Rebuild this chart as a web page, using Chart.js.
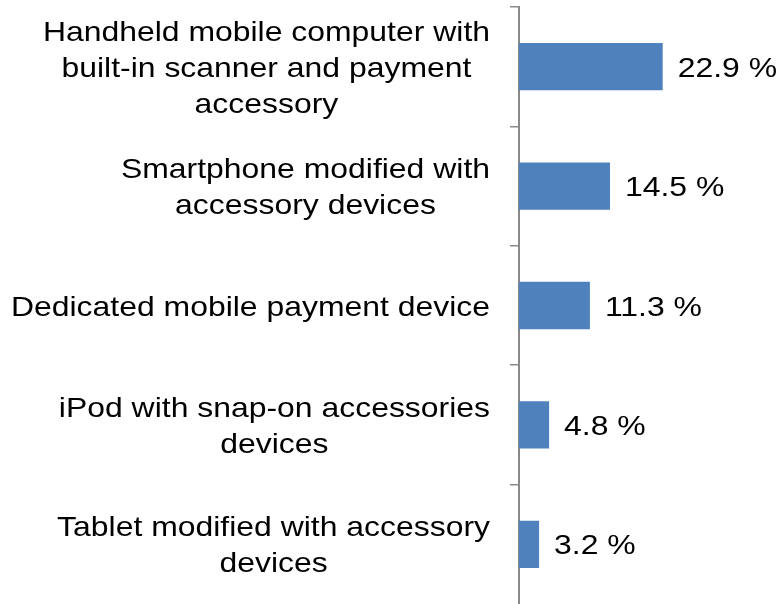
<!DOCTYPE html>
<html>
<head>
<meta charset="utf-8">
<script src="https://cdn.jsdelivr.net/npm/chart.js@4/dist/chart.umd.min.js"></script>
<style>
  html, body { margin: 0; background: #fff; }
  #wrap { width: 780px; height: 604px; position: relative; }
</style>
</head>
<body>
<div id="wrap"><canvas id="chart"></canvas></div>
<script>
// Device types, one multi-line label per bar
const categories = [
    ['Handheld mobile computer with', 'built-in scanner and payment', 'accessory'],
    ['Smartphone modified with', 'accessory devices'],
    ['Dedicated mobile payment device'],
    ['iPod with snap-on accessories', 'devices'],
    ['Tablet modified with accessory', 'devices'],
];
const shares = [22.9, 14.5, 11.3, 4.8, 3.2];

const BAR = '#4f81bd';
const AXIS = '#898989';
const INK = '#000000';

// text is set a little wide, like the slide it came from
const FONT = "28px 'Liberation Sans', Arial, sans-serif";
const STRETCH = 1.14;
const LINE_H = 36;
const CAP_H = 20;
const TICK_LEN = 9;
const LABEL_GAP = 20;
const VALUE_GAP = 15;

function textWidth(ctx, text) {
    return ctx.measureText(text).width * STRETCH;
}

function drawText(ctx, text, left, baseline) {
    ctx.save();
    ctx.translate(left, baseline);
    ctx.scale(STRETCH, 1);
    ctx.textAlign = 'left';
    ctx.textBaseline = 'alphabetic';
    ctx.fillText(text, 0, 0);
    ctx.restore();
}

// category names: block right-aligned to the axis, lines centred inside the block
const categoryLabels = {
    id: 'categoryLabels',
    afterDraw(chart) {
        const { ctx } = chart;
        const y = chart.scales.y;
        const right = y.right - TICK_LEN - LABEL_GAP;
        ctx.save();
        ctx.font = FONT;
        ctx.fillStyle = INK;
        categories.forEach((lines, i) => {
            const yc = y.getPixelForValue(i);
            const blockW = Math.max(...lines.map((l) => textWidth(ctx, l)));
            const cx = right - blockW / 2;
            lines.forEach((line, k) => {
                const mid = yc + (k - (lines.length - 1) / 2) * LINE_H;
                drawText(ctx, line, cx - textWidth(ctx, line) / 2, mid + CAP_H / 2);
            });
        });
        ctx.restore();
    },
};

// "22.9 %" style value just past the end of each bar
const valueLabels = {
    id: 'valueLabels',
    afterDatasetsDraw(chart) {
        const { ctx } = chart;
        const meta = chart.getDatasetMeta(0);
        ctx.save();
        ctx.font = FONT;
        ctx.fillStyle = INK;
        meta.data.forEach((bar, i) => {
            const txt = `${shares[i].toFixed(1)} %`;
            drawText(ctx, txt, bar.x + VALUE_GAP, bar.y + CAP_H / 2);
        });
        ctx.restore();
    },
};

const ctx = document.getElementById('chart').getContext('2d');
new Chart(ctx, {
    type: 'bar',
    data: {
        labels: categories.map((l) => l.join(' ')),
        datasets: [{
            data: shares,
            backgroundColor: BAR,
            borderWidth: 0,
            barPercentage: 0.396,
            categoryPercentage: 1,
        }],
    },
    options: {
        indexAxis: 'y',
        responsive: true,
        maintainAspectRatio: false,
        animation: false,
        events: [],
        layout: {
            padding: { top: 7, right: 10, bottom: 0, left: 0 },
        },
        plugins: {
            legend: { display: false },
            tooltip: { enabled: false },
        },
        scales: {
            x: {
                display: false,
                min: 0,
                max: 40,
            },
            y: {
                offset: true,
                grid: {
                    offset: true,
                    drawOnChartArea: false,
                    drawTicks: true,
                    tickLength: TICK_LEN,
                    // the extra closing line at the bottom edge gets the scale context: hide it
                    color: (c) => (c.type === 'tick' ? AXIS : 'rgba(0,0,0,0)'),
                    lineWidth: 1.5,
                },
                border: {
                    color: AXIS,
                    width: 2,
                },
                ticks: { display: false },
                afterFit(scale) {
                    scale.width = 519;
                },
            },
        },
    },
    plugins: [categoryLabels, valueLabels],
});
</script>
</body>
</html>
